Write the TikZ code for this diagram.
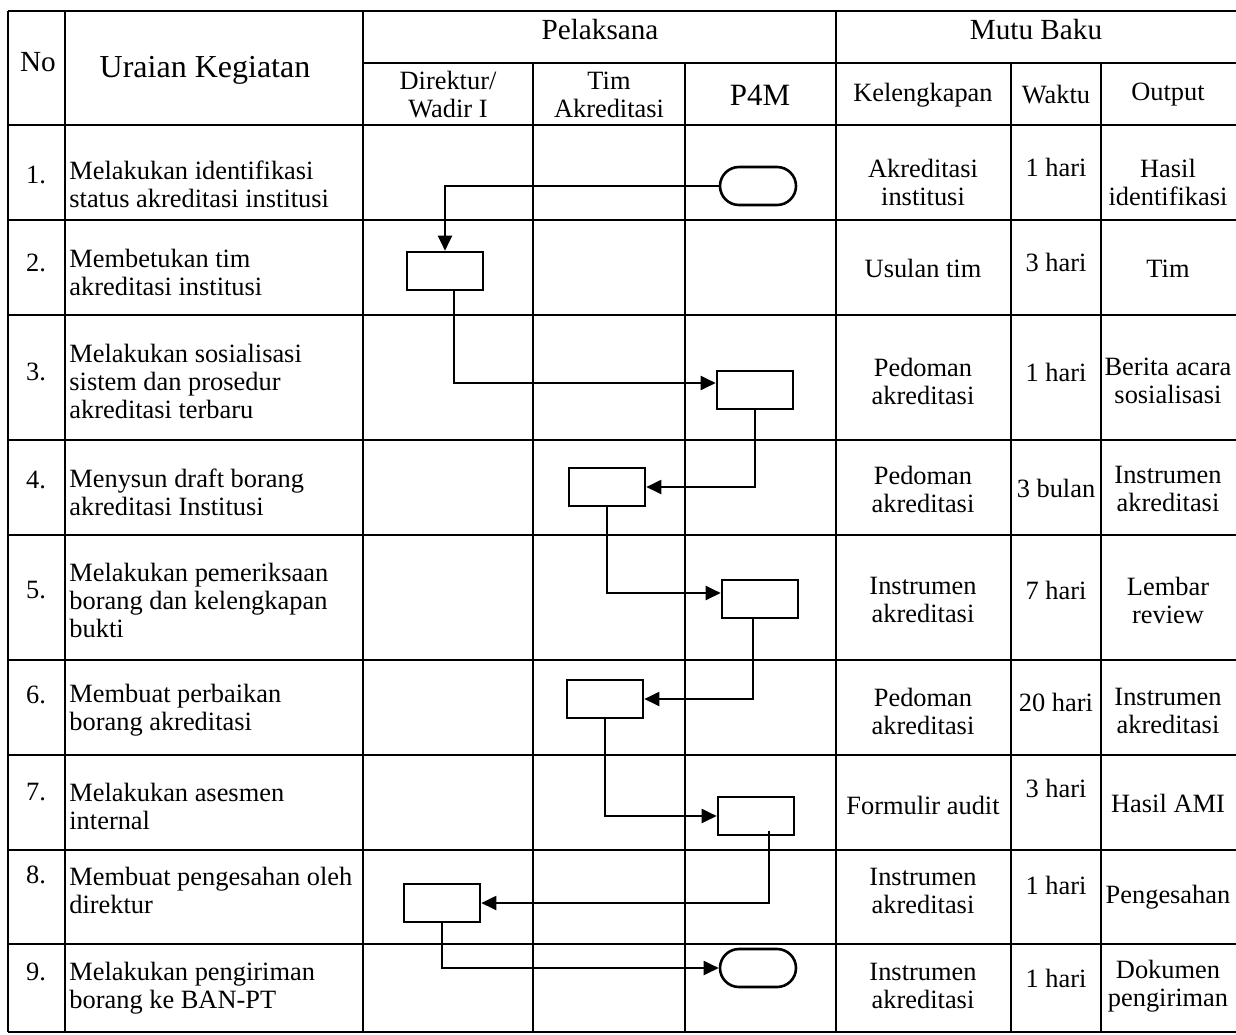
\documentclass[tikz,border=0pt]{standalone}
\usepackage{fontspec}
\setmainfont{Liberation Serif}
\usetikzlibrary{arrows.meta,positioning}

\newcommand{\cellfont}{\fontsize{13.2}{14}\selectfont}
\newcommand{\headfont}{\fontsize{14.6}{15}\selectfont}

\tikzset{
  grid/.style={line width=0.75pt},
  txt/.style={inner sep=0pt, align=center, font=\cellfont},
  desc/.style={inner sep=0pt, align=left, anchor=west, font=\cellfont},
  proc/.style={draw, line width=1.3pt, minimum width=38pt, minimum height=19pt, inner sep=0pt},
  term/.style={proc, rounded corners=9.5pt},
  flow/.style={line width=1pt, -{Triangle[length=7.5pt,width=7pt]}},
}

\begin{document}
\begin{tikzpicture}[x=0.5pt, y=-0.5pt]
  \useasboundingbox (0,0) rectangle (1236,1034);

  % ── Table frame ───────────────────────────────────────────────────────
  \draw[grid] (8,11) -- (1236,11);
  \draw[grid] (363,63) -- (1236,63);
  \draw[grid] (8,125) -- (1236,125);
  \draw[grid] (8,220) -- (1236,220);
  \draw[grid] (8,315) -- (1236,315);
  \draw[grid] (8,440) -- (1236,440);
  \draw[grid] (8,535) -- (1236,535);
  \draw[grid] (8,660) -- (1236,660);
  \draw[grid] (8,755) -- (1236,755);
  \draw[grid] (8,850) -- (1236,850);
  \draw[grid] (8,944) -- (1236,944);
  \draw[grid] (8,1032) -- (1236,1032);

  \draw[grid] (8,11) -- (8,1032);
  \draw[grid] (65,11) -- (65,1032);
  \draw[grid] (363,11) -- (363,1032);
  \draw[grid] (836,11) -- (836,1032);
  \draw[grid] (533,63) -- (533,1032);
  \draw[grid] (685,63) -- (685,1032);
  \draw[grid] (1011,63) -- (1011,1032);
  \draw[grid] (1101,63) -- (1101,1032);

  % ── Header ────────────────────────────────────────────────────────────
  \node[txt, font=\headfont] (hNo) at (38,62) {No};
  \node[txt, font=\fontsize{16}{17}\selectfont] (hUraian) at (205,70) {Uraian Kegiatan};
  \node[txt, font=\headfont] (hPel) at (600,30) {Pelaksana};
  \node[txt, font=\headfont] (hMutu) at (1036,30) {Mutu Baku};
  \node[txt] (hDir) at (448,95) {Direktur/\\Wadir I};
  \node[txt] (hTim) at (609,95) {Tim\\Akreditasi};
  \node[txt, font=\fontsize{15.5}{16}\selectfont] (hP4M) at (760,95) {P4M};
  \node[txt] (hKel) at (923,95) {Kelengkapan};
  \node[txt] (hWak) at (1056,95) {Waktu};
  \node[txt] (hOut) at (1168,95) {Output};

  % ── Row numbers ───────────────────────────────────────────────────────
  \node[txt] (n1) at (36,175) {1.};
  \node[txt] (n2) at (36,263) {2.};
  \node[txt] (n3) at (36,372) {3.};
  \node[txt] (n4) at (36,480) {4.};
  \node[txt] (n5) at (36,590) {5.};
  \node[txt] (n6) at (36,695) {6.};
  \node[txt] (n7) at (36,792) {7.};
  \node[txt] (n8) at (36,875) {8.};
  \node[txt] (n9) at (36,972) {9.};

  % ── Uraian kegiatan ───────────────────────────────────────────────────
  \node[desc] (u1) at (69,184) {Melakukan identifikasi\\status akreditasi institusi};
  \node[desc] (u2) at (69,272) {Membetukan tim\\akreditasi institusi};
  \node[desc] (u3) at (69,381) {Melakukan sosialisasi\\sistem dan prosedur\\akreditasi terbaru};
  \node[desc] (u4) at (69,492) {Menysun draft borang\\akreditasi Institusi};
  \node[desc] (u5) at (69,600) {Melakukan pemeriksaan\\borang dan kelengkapan\\bukti};
  \node[desc] (u6) at (69,710) {Membuat perbaikan\\borang akreditasi};
  \node[desc] (u7) at (69,806) {Melakukan asesmen\\internal};
  \node[desc] (u8) at (69,890) {Membuat pengesahan oleh\\direktur};
  \node[desc] (u9) at (69,988) {Melakukan pengiriman\\borang ke BAN-PT};

  % ── Mutu baku ─────────────────────────────────────────────────────────
  \node[txt] (k1) at (923,182) {Akreditasi\\institusi};
  \node[txt] (w1) at (1056,167) {1 hari};
  \node[txt] (o1) at (1168,182) {Hasil\\identifikasi};

  \node[txt] (k2) at (923,268) {Usulan tim};
  \node[txt] (w2) at (1056,262) {3 hari};
  \node[txt] (o2) at (1168,269) {Tim};

  \node[txt] (k3) at (923,381) {Pedoman\\akreditasi};
  \node[txt] (w3) at (1056,372) {1 hari};
  \node[txt] (o3) at (1168,381) {Berita acara\\sosialisasi};

  \node[txt] (k4) at (923,489) {Pedoman\\akreditasi};
  \node[txt] (w4) at (1056,488) {3 bulan};
  \node[txt] (o4) at (1168,489) {Instrumen\\akreditasi};

  \node[txt] (k5) at (923,600) {Instrumen\\akreditasi};
  \node[txt] (w5) at (1056,590) {7 hari};
  \node[txt] (o5) at (1168,600) {Lembar\\review};

  \node[txt] (k6) at (923,711) {Pedoman\\akreditasi};
  \node[txt] (w6) at (1056,702) {20 hari};
  \node[txt] (o6) at (1168,711) {Instrumen\\akreditasi};

  \node[txt] (k7) at (923,805) {Formulir audit};
  \node[txt] (w7) at (1056,788) {3 hari};
  \node[txt] (o7) at (1168,803) {Hasil AMI};

  \node[txt] (k8) at (923,891) {Instrumen\\akreditasi};
  \node[txt] (w8) at (1056,885) {1 hari};
  \node[txt] (o8) at (1168,897) {Pengesahan};

  \node[txt] (k9) at (923,986) {Instrumen\\akreditasi};
  \node[txt] (w9) at (1056,978) {1 hari};
  \node[txt] (o9) at (1168,986) {Dokumen\\pengiriman};

  % ── Flow symbols ──────────────────────────────────────────────────────
  \node[term] (t1) at (758,186) {};
  \node[proc] (b2) at (445,271) {};
  \node[proc] (b3) at (755,390) {};
  \node[proc] (b4) at (607,487) {};
  \node[proc] (b5) at (760,599) {};
  \node[proc] (b6) at (605,699) {};
  \node[proc] (b7) at (756,816) {};
  \node[proc] (b8) at (442,903) {};
  \node[term] (t2) at (758,968) {};

  % ── Connectors ────────────────────────────────────────────────────────
  \draw[flow] (t1.west) -| (b2.north);
  \draw[flow] ([xshift=4.5pt]b2.south) |- ([yshift=3.5pt]b3.west);
  \draw[flow] (b3.south) |- (b4.east);
  \draw[flow] (b4.south) |- ([yshift=3pt]b5.west);
  \draw[flow] ([xshift=-3.5pt]b5.south) |- (b6.east);
  \draw[flow] (b6.south) |- (b7.west);
  \draw[flow] ([xshift=6.5pt,yshift=2.5pt]b7.south) |- (b8.east);
  \draw[flow] (b8.south) |- (t2.west);

\end{tikzpicture}
\end{document}
